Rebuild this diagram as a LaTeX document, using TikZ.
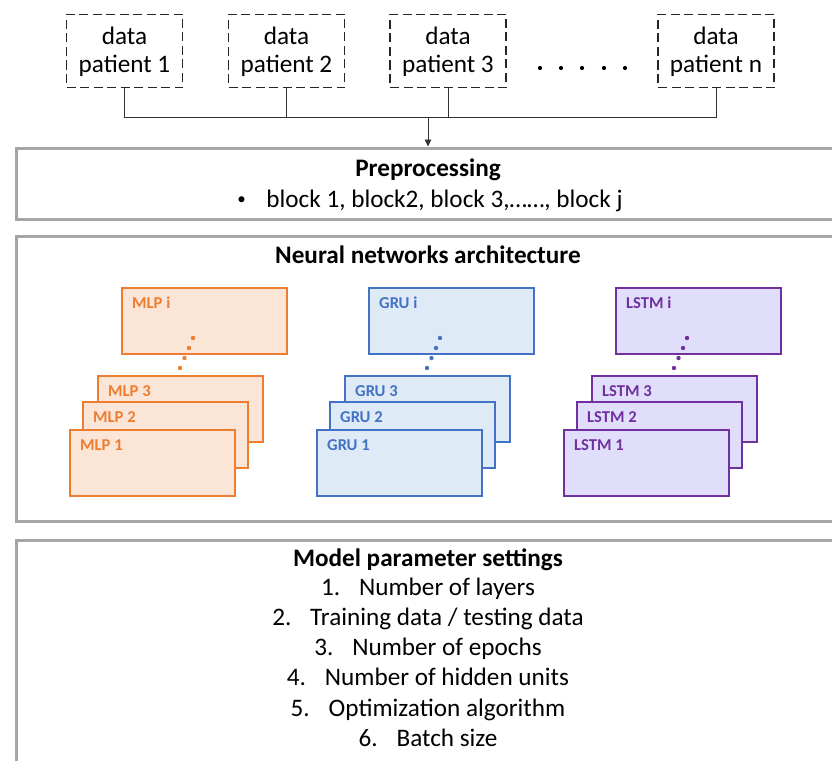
\documentclass[tikz,border=0pt]{standalone}
\usepackage{fontspec}
\setmainfont{Carlito}
\usetikzlibrary{arrows.meta}
\definecolor{mlpD}{HTML}{ED7D31}
\definecolor{mlpL}{HTML}{FBE5D6}
\definecolor{gruD}{HTML}{4472C4}
\definecolor{gruL}{HTML}{DEEBF7}
\definecolor{lstD}{HTML}{7030A0}
\definecolor{lstL}{RGB}{224,222,250}
\definecolor{frameG}{HTML}{A6A6A6}
\begin{document}
\begin{tikzpicture}[x=1pt,y=-1pt,
  txt/.style={inner sep=0pt, anchor=base, font=\fontsize{25.2}{29}\selectfont},
  ttl/.style={inner sep=0pt, anchor=base, font=\fontsize{25.2}{29}\selectfont\bfseries},
  lab/.style={inner sep=0pt, anchor=base west, font=\fontsize{16.6}{19}\selectfont\bfseries},
  databox/.style={draw=black!85, dash pattern=on 9pt off 4.5pt, line width=1.8pt, minimum width=116pt, minimum height=73pt, inner sep=0pt},
  frame/.style={draw=frameG, line width=3pt, minimum width=860pt, anchor=north west, inner sep=0pt},
  mbox/.style={draw=#1D, fill=#1L, line width=2pt, minimum width=165pt, minimum height=66pt, anchor=north west, inner sep=0pt},
  conn/.style={draw=black!80, line width=0.8pt}]
\useasboundingbox (0,0) rectangle (832,760);
\clip (0,0) rectangle (832,760);
% data boxes
\node[databox] (d1) at (124.5,51) {};
\node[databox] (d2) at (286.5,51) {};
\node[databox] (d3) at (448,51) {};
\node[databox] (dn) at (716,51) {};
\foreach \b/\t in {d1/1, d2/2, d3/3, dn/n} {
  \node[txt] at ([yshift=6pt]\b.center) {data};
  \node[txt] at ([yshift=-22pt]\b.center) {patient \t};
}
\foreach \x in {540,561,582,604,625} \fill (\x,68) circle[radius=2.1pt];
% frames
\node[frame, minimum height=71pt] (pre) at (14.5,146.5) {};
\node[frame, minimum height=285pt] (nn) at (14.5,235) {};
\node[frame, minimum height=260pt] (mp) at (14.5,539) {};
% connectors
\coordinate (j) at (428,117);
\draw[conn] (d1.south) |- (j);
\draw[conn] (d2.south) |- (j);
\draw[conn] (d3.south) |- (j);
\draw[conn] (dn.south) |- (j);
\draw[conn, -{Triangle[length=7pt,width=6.5pt]}] (j) -- (j |- pre.north);
% preprocessing
\node[ttl] (pret) at (428,176) {Preprocessing};
\node[txt] (preb) at (430,207) {\makebox[29pt][l]{\raisebox{0.1em}{\fontsize{17}{17}\selectfont•}}block 1, block2, block 3,……, block j};
% neural networks
\node[ttl] (nnt) at (428,263) {Neural networks architecture};
\foreach \x/\col/\n/\lbl in {69/mlp/m/MLP, 316/gru/g/GRU, 563/lst/l/LSTM} {
  \node[mbox=\col] (\n-i) at (\x+52,287) {};
  \node[mbox=\col] (\n-3) at (\x+28,375) {};
  \node[mbox=\col] (\n-2) at (\x+13,401) {};
  \node[mbox=\col] (\n-1) at (\x,429) {};
  \foreach \k in {i,3,2,1}
    \node[lab, text=\col D] at ([xshift=11pt,yshift=-21.5pt]\n-\k.north west) {\lbl\ \k};
  \foreach \dx/\dy in {124/338, 120/348, 115.5/358, 111/368}
    \fill[\col D] (\x+\dx,\dy) circle[radius=2.2pt];
}
% model parameters
\node[ttl] (mpt) at (428,566) {Model parameter settings};
\node[txt] (l1) at (428,595) {\makebox[38pt][l]{1.}Number of layers};
\node[txt] (l2) at (428,625) {\makebox[38pt][l]{2.}Training data / testing data};
\node[txt] (l3) at (428,655) {\makebox[38pt][l]{3.}Number of epochs};
\node[txt] (l4) at (428,685) {\makebox[38pt][l]{4.}Number of hidden units};
\node[txt] (l5) at (428,716) {\makebox[38pt][l]{5.}Optimization algorithm};
\node[txt] (l6) at (428,746) {\makebox[38pt][l]{6.}Batch size};
\end{tikzpicture}
\end{document}
